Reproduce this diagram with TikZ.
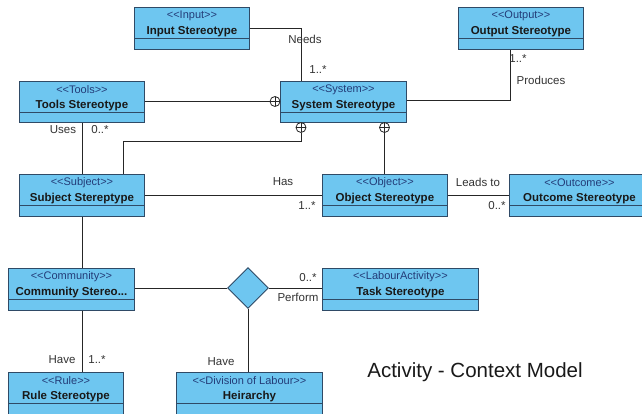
\documentclass[tikz,border=0pt]{standalone}
\usepackage{fontspec}
\setmainfont{Liberation Sans}
\usetikzlibrary{shapes.geometric,calc}
\definecolor{boxfill}{HTML}{6EC6F0}
\definecolor{boxline}{HTML}{2F4A66}
\definecolor{stereocol}{HTML}{233C78}
\definecolor{lblcol}{HTML}{333333}
\newcommand\ltlt{<\kern0pt<}
\newcommand\gtgt{>\kern0pt>}
\tikzset{
 umlbox/.style={draw=boxline, fill=boxfill, line width=0.9pt, inner sep=0pt, anchor=north west},
 stereotxt/.style={text=stereocol, font=\fontsize{11}{13}\selectfont, inner sep=0pt},
 titletxt/.style={text=black!90, font=\bfseries\fontsize{11.5}{13}\selectfont, inner sep=0pt},
 conn/.style={draw=black!85, line width=0.8pt},
 lab/.style={text=lblcol, font=\fontsize{11.5}{13}\selectfont, inner sep=0pt},
 nest/.style={circle, draw=black!85, line width=0.8pt, minimum size=10pt, inner sep=0pt, fill=white,
   path picture={\draw[black!85, line width=0.8pt] (path picture bounding box.north) -- (path picture bounding box.south) (path picture bounding box.west) -- (path picture bounding box.east);}},
 assoc/.style={diamond, draw=boxline, fill=boxfill, line width=0.9pt, minimum width=41pt, minimum height=41pt, inner sep=0pt},
}
\newcommand\UmlBox[7]{%
 \node[umlbox, minimum width=#4pt, minimum height=#5pt] (#1) at (#2,#3) {};
 \draw[boxline, line width=0.9pt] ([yshift=-31.5pt]#1.north west) -- ([yshift=-31.5pt]#1.north east);
 \node[stereotxt] (#1-s) at ([yshift=-8.5pt]#1.north) {#6};
 \node[titletxt] (#1-t) at ([yshift=-24.5pt]#1.north) {#7};
}
\begin{document}
\begin{tikzpicture}[x=1pt,y=-1pt]
\useasboundingbox (0,0) rectangle (642,414);
\clip (0,0) rectangle (642,414);
\fill[white] (0,0) rectangle (642,414);

\UmlBox{input}{134}{7}{115}{42}{\ltlt Input\gtgt}{Input Stereotype}
\UmlBox{output}{458}{7}{125}{42}{\ltlt Output\gtgt}{Output Stereotype}
\UmlBox{tools}{19}{81}{125}{41}{\ltlt Tools\gtgt}{Tools Stereotype}
\UmlBox{sys}{280}{81}{126}{41}{\ltlt System\gtgt}{System Stereotype}
\UmlBox{subject}{19}{174}{125}{42}{\ltlt Subject\gtgt}{Subject Stereptype}
\UmlBox{obj}{322}{174}{125}{42}{\ltlt Object\gtgt}{Object Stereotype}
\UmlBox{outcome}{509}{174}{140}{42}{\ltlt Outcome\gtgt}{Outcome Stereotype}
\UmlBox{comm}{8}{268}{126}{42}{\ltlt Community\gtgt}{Community Stereo...}
\UmlBox{task}{322}{268}{156}{42}{\ltlt LabourActivity\gtgt}{Task Stereotype}
\UmlBox{rule}{8}{372}{115}{44}{\ltlt Rule\gtgt}{Rule Stereotype}
\UmlBox{hier}{176}{372}{146}{44}{\ltlt Division of Labour\gtgt}{Heirarchy}

\node[assoc] (dia) at (248,288) {};

\node[nest] (p1) at (275,101.5) {};
\node[nest] (p2) at (301,127.5) {};
\node[nest] (p3) at (384.5,127.5) {};

% connectors
\draw[conn] (input.east) -| ([xshift=-42pt]sys.north);
\draw[conn] ([yshift=1.5pt]sys.east) -| ([xshift=-10.5pt]output.south);
\draw[conn] (p1.west -| tools.east) -- (p1.west);
\draw[conn] (p2.south) -- ++(0,9) -| ([xshift=41.5pt]subject.north);
\draw[conn] (p3.south) -- (p3.south |- obj.north);
\draw[conn] (tools.south) -- (subject.north);
\draw[conn] (subject.east) -- (obj.west);
\draw[conn] (obj.east) -- (outcome.west);
\draw[conn] ([xshift=0.5pt]subject.south) -- ([xshift=0.5pt]subject.south |- comm.north);
\draw[conn] (comm.east |- dia.west) -- (dia.west);
\draw[conn] (dia.east) -- (dia.east -| task.west);
\draw[conn] (dia.south) -- (dia.south |- hier.north);
\draw[conn] ([xshift=11pt]comm.south) -- ([xshift=11pt]comm.south |- rule.north);

% labels
\node[lab] (l1) at (305,39) {Needs};
\node[lab] (l2) at (318,70) {1..*};
\node[lab] (l3) at (518,59) {1..*};
\node[lab] (l4) at (541,80) {Produces};
\node[lab] (l5) at (63,130) {Uses};
\node[lab] (l6) at (100,130) {0..*};
\node[lab] (l7) at (283,182) {Has};
\node[lab] (l8) at (307,206) {1..*};
\node[lab] (l9) at (478,182) {Leads to};
\node[lab] (l10) at (497,206) {0..*};
\node[lab] (l11) at (308,278) {0..*};
\node[lab] (l12) at (298,297) {Perform};
\node[lab] (l13) at (221,362) {Have};
\node[lab] (l14) at (62,360) {Have};
\node[lab] (l15) at (97,360) {1..*};

\node[text=black!90, font=\fontsize{20.5}{24}\selectfont, inner sep=0pt] (title) at (475,372) {Activity - Context Model};
\end{tikzpicture}
\end{document}
